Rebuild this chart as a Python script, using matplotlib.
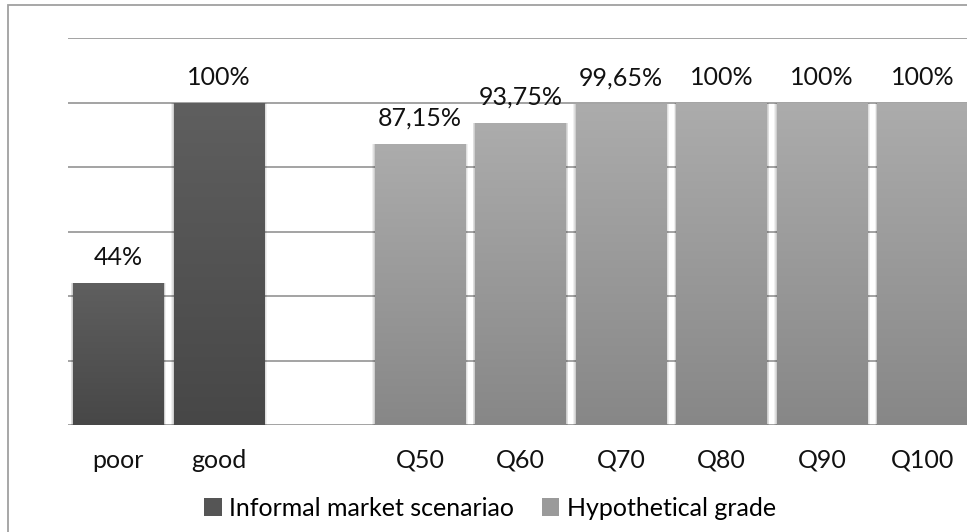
import numpy as np
import matplotlib
matplotlib.use("Agg")
import matplotlib.pyplot as plt
from matplotlib.colors import LinearSegmentedColormap
from matplotlib.patches import Patch, Rectangle

plt.rcParams['font.family'] = ['Lato', 'DejaVu Sans']

# data
informal_labels = ['poor', 'good']
informal_values = [44, 100]
hypo_labels = ['Q50', 'Q60', 'Q70', 'Q80', 'Q90', 'Q100']
hypo_values = [87.15, 93.75, 99.65, 100, 100, 100]
series_names = ['Informal market scenariao', 'Hypothetical grade']

informal_pos = [0, 1]
hypo_pos = [3, 4, 5, 6, 7, 8]

dark_cmap = LinearSegmentedColormap.from_list('dark', ['#474747', '#5f5f5f'])
light_cmap = LinearSegmentedColormap.from_list('light', ['#878787', '#acacac'])

FS = 18

fig = plt.figure(figsize=(9.67, 5.32), dpi=100)
ax = fig.add_axes([68 / 967, 107 / 532, 905 / 967, 387 / 532])

width = 0.9
grad = np.linspace(0, 1, 256).reshape(-1, 1)


def fmt(v):
    s = ('%.2f' % v).rstrip('0').rstrip('.')
    return s.replace('.', ',') + '%'


def draw_bars(pos, vals, cmap):
    # soft shadow around each bar
    for k, a in zip([0.05, 0.035, 0.02], [0.06, 0.07, 0.08]):
        ax.bar(pos, [v + 0.4 for v in vals], width=width + k, bottom=-0.4,
               color='black', alpha=a, zorder=2, linewidth=0)
    bars = ax.bar(pos, vals, width=width, color='none', zorder=3, linewidth=0)
    for b, v in zip(bars, vals):
        x0 = b.get_x()
        im = ax.imshow(grad, extent=[x0, x0 + width, 0, v], origin='lower',
                       aspect='auto', cmap=cmap, zorder=3)
        im.set_clip_path(b)
        ax.annotate(fmt(v), (b.get_x() + width / 2, v), xytext=(0, 10),
                    textcoords='offset points', ha='center', va='bottom',
                    fontsize=FS, color='#111111')


draw_bars(informal_pos, informal_values, dark_cmap)
draw_bars(hypo_pos, hypo_values, light_cmap)

ax.set_xlim(-0.5, 8.5)
ax.set_ylim(0, 120)
ax.set_yticks(range(0, 121, 20))
ax.yaxis.grid(True, color='#8a8a8a', linewidth=1.1)
ax.set_axisbelow(True)
ax.tick_params(axis='y', left=False, labelleft=False)
ax.set_xticks(informal_pos + hypo_pos)
ax.set_xticklabels(informal_labels + hypo_labels, fontsize=FS, color='#111111')
ax.tick_params(axis='x', length=0, pad=17)
for s in ax.spines.values():
    s.set_visible(False)

handles = [Patch(facecolor='#555555'), Patch(facecolor='#9a9a9a')]
fig.legend(handles, series_names, loc='center', bbox_to_anchor=(0.507, 0.045),
           ncol=2, frameon=False, fontsize=FS, handlelength=0.7,
           handleheight=0.7, handletextpad=0.3, columnspacing=1.1)

# chart frame (runs past the right and bottom edges)
fig.add_artist(Rectangle((8 / 967, -0.2), 1.2, 0.2 + 527 / 532,
                         transform=fig.transFigure, fill=False,
                         edgecolor='#a0a0a0', linewidth=1.3))

fig.savefig('out.png', dpi=100)
